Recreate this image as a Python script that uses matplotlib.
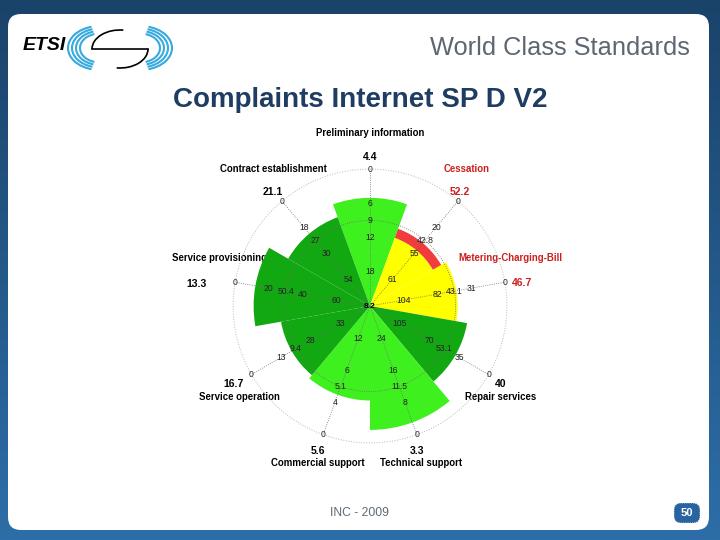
import numpy as np
import matplotlib
matplotlib.use("Agg")
import matplotlib.pyplot as plt
from matplotlib.patches import FancyBboxPatch, Arc

plt.rcParams['font.family'] = ['Liberation Sans', 'DejaVu Sans']

# --- chart data ---
categories = ["Preliminary information", "Cessation", "Metering-Charging-Bill",
              "Repair services", "Technical support", "Commercial support",
              "Service operation", "Service provisioning", "Contract establishment"]
totals = ["4.4", "52.2", "46.7", "40", "3.3", "5.6", "16.7", "13.3", "21.1"]
# wedge length, outer dotted ring = 1
lengths = [0.79, 0.53, 0.64, 0.72, 0.905, 0.69, 0.66, 0.85, 0.69]
cessation_red_top = 0.60
sector_colours = ["#3ef01e", "#ffff00", "#ffff00", "#12a812", "#3ef01e",
                  "#3ef01e", "#12a812", "#12a812", "#12a812"]
red_labels = [False, True, True, False, False, False, False, False, False]
# axis scale labels, from outer ring towards the centre
tick_pos = [1.0, 0.75, 0.625, 0.5, 0.25]
tick_labels = [
    ["0", "6", "9", "12", "18"],
    ["0", "20", "42.8", "55", "61"],
    ["0", "31", "43.1", "82", "104"],
    ["0", "35", "53.1", "70", "105"],
    ["0", "8", "11.5", "16", "24"],
    ["0", "4", "5.1", "6", "12"],
    ["0", "13", "9.4", "28", "33"],
    ["0", "20", "50.4", "40", "60"],
    ["0", "18", "27", "30", "54"],
]

# label placement (angle in degrees, radius)
name_pos = [(0, 1.263), (35.3, 1.225), (71.2, 1.087), (124.8, 1.164), (162, 1.205),
            (198.3, 1.207), (235.2, 1.164), (287.6, 1.156), (324.7, 1.225)]
total_pos = [(0, 1.09), (38.3, 1.06), (81.6, 1.125), (120.8, 1.113), (162, 1.112),
             (199.7, 1.124), (240.3, 1.15), (277.2, 1.28), (319.6, 1.093)]

RED = "#cc1f1f"

fig = plt.figure(figsize=(7.2, 5.4), dpi=100)

# slide background
bg = fig.add_axes([0, 0, 1, 1])
bg.set_xlim(0, 720)
bg.set_ylim(0, 540)
bg.axis('off')
top = np.array([26, 67, 106]) / 255
bot = np.array([45, 110, 168]) / 255
grad = np.linspace(0, 1, 256)[:, None, None]
img = top + (bot - top) * grad
bg.imshow(img, extent=[0, 720, 0, 540], aspect='auto', zorder=0, origin='upper')
bg.add_patch(FancyBboxPatch((8, 10), 701, 516, boxstyle="round,pad=0,rounding_size=13",
                            fc="white", ec="none", zorder=1))

def Y(y):
    return 540 - y

# ETSI logo
bg.text(23, Y(45), "ETSI", fontsize=14, fontweight='bold', fontstyle='italic',
        va='center', ha='left', zorder=3)
for k in range(4):
    a = 2 * (32 - 4 * k)
    b = 2 * (22 - 2.5 * k)
    bg.add_patch(Arc((100, Y(48)), a, b, theta1=112, theta2=248, color="#35aadd", lw=1.5, zorder=3))
    bg.add_patch(Arc((140, Y(48)), a, b, theta1=-68, theta2=68, color="#35aadd", lw=1.5, zorder=3))
bg.add_patch(Arc((120, Y(49)), 56, 38, theta1=80, theta2=180, color="black", lw=1.2, zorder=4))
bg.add_patch(Arc((120, Y(49)), 56, 38, theta1=260, theta2=360, color="black", lw=1.2, zorder=4))
bg.plot([92, 148], [Y(49), Y(49)], color="black", lw=1.2, zorder=4)

bg.text(690, Y(48), "World Class Standards", fontsize=18.3, color="#5c6772",
        ha='right', va='center', zorder=3)
bg.text(360, Y(100), "Complaints Internet SP D V2", fontsize=20, fontweight='bold',
        color="#1f3d63", ha='center', va='center', zorder=3)
bg.text(359, Y(513), "INC - 2009", fontsize=8.7, color="#5f6b77", ha='center', va='center', zorder=3)
bg.add_patch(FancyBboxPatch((674, Y(523)), 26, 20, boxstyle="round,pad=0,rounding_size=7",
                            fc="#2a64a0", ec="white", lw=0.6, ls=':', zorder=3))
bg.text(687, Y(513), "50", fontsize=8, fontweight='bold', color="white",
        ha='center', va='center', zorder=4)

# --- rose chart ---
ax = fig.add_axes([192 / 720, 1 - 484 / 540, 356 / 720, 356 / 540], projection='polar')
ax.set_theta_zero_location('N')
ax.set_theta_direction(-1)
ax.set_ylim(0, 1.3)
ax.patch.set_alpha(0)
ax.grid(False)
ax.set_xticks([])
ax.set_yticks([])
ax.spines['polar'].set_visible(False)

theta = np.deg2rad(np.arange(len(categories)) * 40)
width = np.deg2rad(40)

ax.bar(theta, lengths, width=width, color=sector_colours, linewidth=0, zorder=2)
ax.bar(theta[1], cessation_red_top - lengths[1], bottom=lengths[1], width=width,
       color="#f03c3c", linewidth=0, zorder=2)

# dotted grid
ring = np.linspace(0, 2 * np.pi, 400)
ax.plot(ring, np.ones_like(ring), ls=':', color="#b8b8b8", lw=0.7, zorder=3)
ax.plot(ring, np.full_like(ring, 0.625), ls=':', color="#707070", lw=0.6, zorder=3)
for t in theta:
    ax.plot([t, t], [0, 1.0], ls=':', color="#707070", lw=0.6, zorder=3)

for i, t in enumerate(theta):
    for r, lab in zip(tick_pos, tick_labels[i]):
        ax.text(t, r, lab, fontsize=6.2, ha='center', va='center', color="#222222", zorder=4)
    colour = RED if red_labels[i] else "black"
    a, r = name_pos[i]
    ax.text(np.deg2rad(a), r, categories[i], fontsize=6.9, fontweight='bold',
            color=colour, ha='center', va='center', zorder=1)
    a, r = total_pos[i]
    ax.text(np.deg2rad(a), r, totals[i], fontsize=7.5, fontweight='bold',
            color=colour, ha='center', va='center', zorder=4)

ax.text(0, 0, "8.2", fontsize=6, fontweight='bold', ha='center', va='center', zorder=4)

fig.savefig("out.png", dpi=100)
